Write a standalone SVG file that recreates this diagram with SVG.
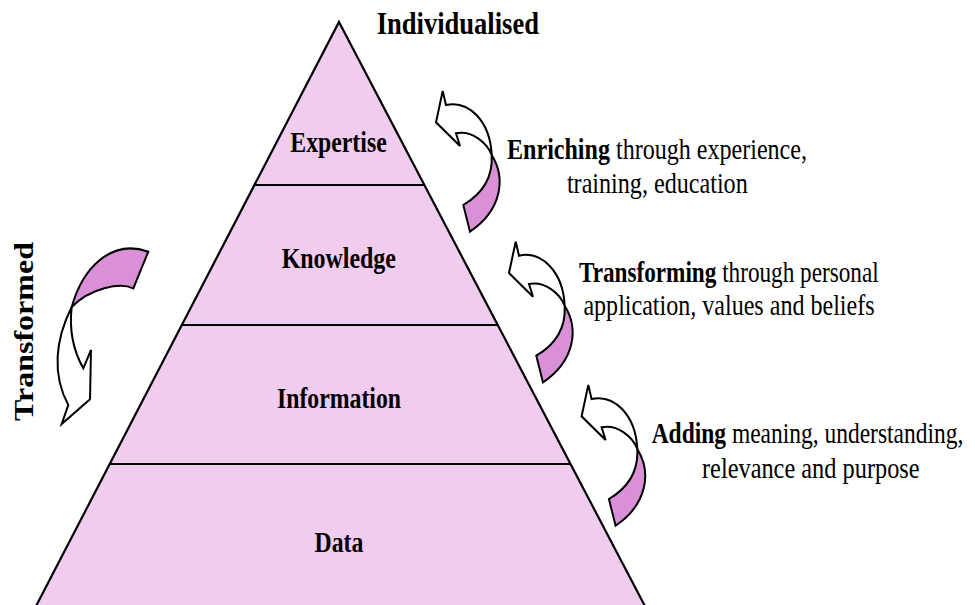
<svg xmlns="http://www.w3.org/2000/svg" xmlns:xlink="http://www.w3.org/1999/xlink" width="975" height="605" viewBox="0 0 975 605">
  <style>
    .pyr { fill: #F0CCEE; stroke: #000; stroke-width: 2.2; stroke-linejoin: miter; }
    .div { stroke: #000; stroke-width: 2; fill: none; }
    .lbl { font-family: "Liberation Serif", "Times New Roman", serif; font-weight: bold; font-size: 29px; fill: #000; text-anchor: middle; }
    .big { font-family: "Liberation Serif", "Times New Roman", serif; font-weight: bold; font-size: 32px; fill: #000; text-anchor: middle; }
    .desc { font-family: "Liberation Serif", "Times New Roman", serif; font-size: 29px; fill: #000; text-anchor: middle; }
    .b { font-weight: bold; }
    .aw { fill: #FFFFFF; stroke: #000; stroke-width: 2; stroke-linejoin: miter; }
    .ap { fill: #D990D6; stroke: #000; stroke-width: 2; stroke-linejoin: miter; }
  </style>
  <defs>
    <g id="curl">
      <path class="aw" d="M 442.7,91 L 446,105 C 468,100 490,120 491.7,155 C 487,143 472,130 456,133.3 L 460,146 L 436,122.3 Z"/>
      <path class="ap" d="M 491.7,155 C 506,178 502,210 470,231.7 L 463.3,205 C 482,194 493,178 491.7,155 Z"/>
    </g>
  </defs>

  <g id="pyramid">
    <polygon class="pyr" points="339,22 647,610 34,610"/>
    <line class="div" x1="255" y1="185" x2="424" y2="185"/>
    <line class="div" x1="182" y1="325" x2="498" y2="325"/>
    <line class="div" x1="110" y1="464" x2="571" y2="464"/>
  </g>

  <g id="expertise">
    <text class="lbl" transform="translate(338.5,152.3) scale(0.82,1)">Expertise</text>
  </g>
  <g id="knowledge">
    <text class="lbl" transform="translate(338.8,268.3) scale(0.825,1)">Knowledge</text>
  </g>
  <g id="information">
    <text class="lbl" transform="translate(339,407.5) scale(0.82,1)">Information</text>
  </g>
  <g id="data">
    <text class="lbl" transform="translate(339,552) scale(0.82,1)">Data</text>
  </g>

  <g id="individualised">
    <text class="big" transform="translate(457.8,33.5) scale(0.83,1)">Individualised</text>
  </g>
  <g id="transformed">
    <text class="big" transform="translate(33.3,331.5) scale(0.83,1) rotate(-90)">Transformed</text>
  </g>

  <g id="connectors">
    <use xlink:href="#curl"/>
    <use xlink:href="#curl" transform="translate(73,150.7)"/>
    <use xlink:href="#curl" transform="translate(145.6,294)"/>
    <g id="left-curl">
      <path class="ap" d="M 71.7,307 C 82,270 110,238 148.3,251.7 L 133.3,288.3 C 120,282 90,288 71.7,307 Z"/>
      <path class="aw" d="M 71.7,307 C 55,340 52,375 68.3,405 L 61.7,424 L 90,399.3 L 91,350 L 83.3,368.3 C 73,350 69,330 71.7,307 Z"/>
    </g>
  </g>

  <g id="enriching">
    <text class="desc" transform="translate(657,158.5) scale(0.83,1)"><tspan class="b">Enriching</tspan> through experience,</text>
    <text class="desc" transform="translate(657.3,192.5) scale(0.832,1)">training, education</text>
  </g>
  <g id="transforming">
    <text class="desc" transform="translate(728.8,281.7) scale(0.80,1)"><tspan class="b">Transforming</tspan> through personal</text>
    <text class="desc" transform="translate(729,314.5) scale(0.83,1)">application, values and beliefs</text>
  </g>
  <g id="adding">
    <text class="desc" transform="translate(807.5,443.3) scale(0.81,1)"><tspan class="b">Adding</tspan> meaning, understanding,</text>
    <text class="desc" transform="translate(810.8,477.5) scale(0.84,1)">relevance and purpose</text>
  </g>
</svg>
